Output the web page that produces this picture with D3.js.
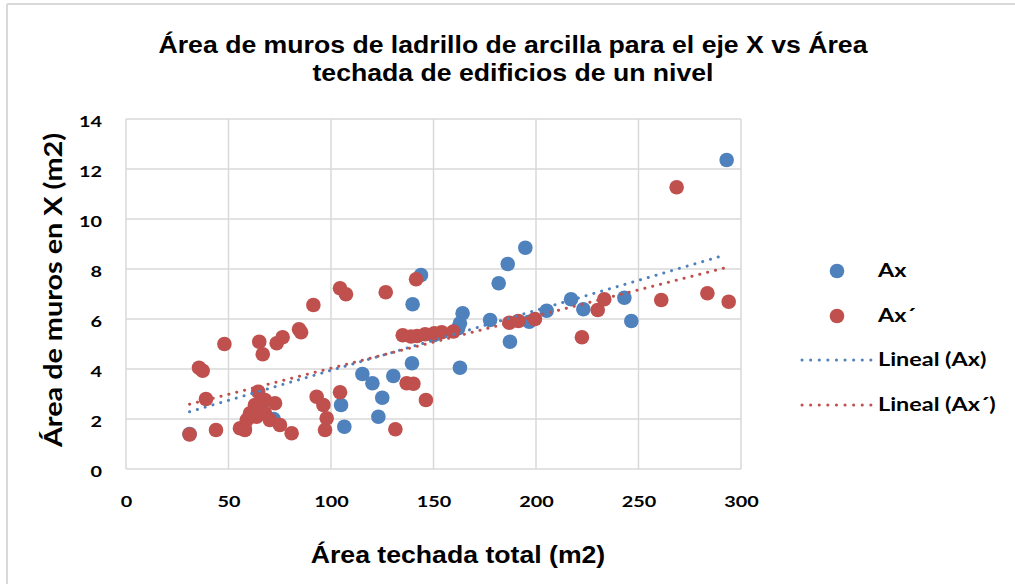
<!DOCTYPE html>
<html>
<head>
<meta charset="utf-8">
<script src="https://cdn.jsdelivr.net/npm/d3@7"></script>
<style>
  body { margin: 0; background: #fff; }
  .tick text { font-family: Lato, "Open Sans", sans-serif; font-weight: bold; font-size: 15.5px; fill: #000; }
</style>
</head>
<body>
<script>
// Ax (blue) points: [area techada, area de muros]
var axPoints = [[293,12.36],[194.8,8.85],[186.2,8.2],[181.8,7.43],[143.9,7.76],[139.8,6.59],[139.5,4.23],
  [164.2,6.23],[162.9,5.83],[162.9,4.05],[177.6,5.96],[187.3,5.09],[196.7,5.89],[205.2,6.33],[217.1,6.79],
  [223.1,6.39],[243.1,6.85],[246.5,5.92],[115.3,3.8],[120.2,3.43],[130.4,3.72],[125,2.85],[123.1,2.09],
  [104.9,2.56],[106.5,1.69],[162,5.63],[31,1.4],[58,1.6],[66,2.5],[72,2.0],[150,5.35]];

// Ax´ (red) points
var axPrimePoints = [[31,1.38],[43.9,1.56],[35.6,4.05],[37.4,3.93],[39,2.8],[48,5.0],[55.6,1.63],[58,1.56],
  [58.9,1.96],[65,5.09],[66.7,4.59],[64.5,3.09],[62.9,2.56],[67.8,2.76],[72.7,2.63],[67.8,2.23],[63.7,2.09],
  [70.2,1.96],[75.1,1.76],[80.8,1.43],[60.5,2.23],[65.4,2.49],[73.5,5.03],[76.4,5.27],[84.4,5.59],[85.4,5.47],
  [91.4,6.56],[93,2.89],[96.3,2.56],[97.9,2.03],[97.1,1.56],[104.4,3.07],[104.4,7.23],[107.3,6.99],[126.7,7.07],
  [131.4,1.59],[136.9,3.43],[140.2,3.41],[146.3,2.76],[141.5,7.59],[135,5.35],[139,5.3],[142,5.32],[145.9,5.39],
  [150.4,5.43],[154,5.47],[159.7,5.5],[187,5.85],[191.4,5.92],[199.5,6.0],[222.4,5.27],[230.1,6.36],[233.3,6.79],
  [261.1,6.76],[268.6,11.27],[283.6,7.03],[294,6.69]];

// linear trend endpoints
var trendAx = [[31,2.29],[290.6,8.52]];
var trendAxPrime = [[31,2.59],[293.3,8.07]];

var xTicks = [0,50,100,150,200,250,300];
var yTicks = [0,2,4,6,8,10,12,14];
var legendLabels = ["Ax", "Ax´", "Lineal (Ax)", "Lineal (Ax´)"];

var blue = "#4F81BD";
var red = "#C0504D";

var width = 1015, height = 584;
var margin = {top: 119, left: 126};
var plotW = 615, plotH = 350;

var svg = d3.select("body")
  .append("svg")
  .attr("width", width)
  .attr("height", height);

// chart border (only top and left visible)
svg.append("line").attr("x1", 7).attr("x2", width + 5).attr("y1", 4).attr("y2", 4)
  .attr("stroke", "#d9d9d9").attr("stroke-width", 2);
svg.append("line").attr("x1", 7).attr("x2", 7).attr("y1", 4).attr("y2", height + 5)
  .attr("stroke", "#d9d9d9").attr("stroke-width", 2);

// title (text in the picture is a bit wider than Arial, hence the x scale)
var title = svg.append("g")
  .attr("transform", "translate(513,0) scale(1.11,1)")
  .append("text")
  .attr("text-anchor", "middle")
  .style("font-family", "'Liberation Sans', Arial, sans-serif")
  .style("font-weight", "bold")
  .style("font-size", "24px");
title.append("tspan").attr("x", 0).attr("y", 53).text("Área de muros de ladrillo de arcilla para el eje X vs Área");
title.append("tspan").attr("x", 0).attr("y", 81).text("techada de edificios de un nivel");

var g = svg.append("g")
  .attr("transform", "translate(" + margin.left + "," + margin.top + ")");

var xScale = d3.scaleLinear().domain([0, 300]).range([0, plotW]);
var yScale = d3.scaleLinear().domain([0, 14]).range([plotH, 0]);

// gridlines
g.selectAll(".vgrid")
  .data(xTicks)
  .enter()
  .append("line")
  .attr("x1", function(d) { return xScale(d); })
  .attr("x2", function(d) { return xScale(d); })
  .attr("y1", 0)
  .attr("y2", plotH)
  .attr("stroke", "#d9d9d9")
  .attr("stroke-width", 1.5);

g.selectAll(".hgrid")
  .data(yTicks)
  .enter()
  .append("line")
  .attr("x1", 0)
  .attr("x2", plotW)
  .attr("y1", function(d) { return yScale(d); })
  .attr("y2", function(d) { return yScale(d); })
  .attr("stroke", "#d9d9d9")
  .attr("stroke-width", 1.5);

// axes (labels only)
var xAxis = g.append("g")
  .attr("transform", "translate(0," + plotH + ")")
  .call(d3.axisBottom(xScale).tickValues(xTicks).tickSize(0).tickPadding(27));
xAxis.select(".domain").remove();
xAxis.selectAll("text").attr("transform", "scale(1.28,1)");

var yAxis = g.append("g")
  .call(d3.axisLeft(yScale).tickValues(yTicks).tickSize(0).tickPadding(24));
yAxis.select(".domain").remove();
yAxis.selectAll("text")
  .attr("x", 0)
  .attr("dy", "0.5em")
  .attr("transform", "translate(-24,0) scale(1.28,1)");

// axis titles
svg.append("text")
  .attr("transform", "translate(458,563) scale(1.11,1)")
  .attr("text-anchor", "middle")
  .style("font-family", "'Liberation Sans', Arial, sans-serif")
  .style("font-weight", "bold")
  .style("font-size", "24px")
  .text("Área techada total (m2)");

svg.append("text")
  .attr("transform", "translate(62,290) rotate(-90) scale(1.2,1)")
  .attr("text-anchor", "middle")
  .style("font-family", "Lato, 'Open Sans', sans-serif")
  .style("font-weight", "bold")
  .style("font-size", "24px")
  .text("Área de muros en X (m2)");

// points
g.selectAll(".ax")
  .data(axPoints)
  .enter()
  .append("circle")
  .attr("cx", function(d) { return xScale(d[0]); })
  .attr("cy", function(d) { return yScale(d[1]); })
  .attr("r", 7.3)
  .attr("fill", blue);

g.selectAll(".axp")
  .data(axPrimePoints)
  .enter()
  .append("circle")
  .attr("cx", function(d) { return xScale(d[0]); })
  .attr("cy", function(d) { return yScale(d[1]); })
  .attr("r", 7.3)
  .attr("fill", red);

// trend lines
var line = d3.line()
  .x(function(d) { return xScale(d[0]); })
  .y(function(d) { return yScale(d[1]); });

g.append("path")
  .datum(trendAx)
  .attr("d", line)
  .attr("fill", "none")
  .attr("stroke", blue)
  .attr("stroke-width", 3)
  .attr("stroke-linecap", "round")
  .attr("stroke-dasharray", "0.1 8");

g.append("path")
  .datum(trendAxPrime)
  .attr("d", line)
  .attr("fill", "none")
  .attr("stroke", red)
  .attr("stroke-width", 3)
  .attr("stroke-linecap", "round")
  .attr("stroke-dasharray", "0.1 8");

// legend
var legendY = [271, 316, 360, 405];
var legendColors = [blue, red, blue, red];

var legend = svg.selectAll(".legend")
  .data(legendLabels)
  .enter()
  .append("g")
  .attr("transform", function(d, i) { return "translate(0," + legendY[i] + ")"; });

legend.each(function(d, i) {
  var item = d3.select(this);
  if (i < 2) {
    item.append("circle").attr("cx", 837).attr("cy", 0).attr("r", 7.3).attr("fill", legendColors[i]);
  } else {
    item.append("line")
      .attr("x1", 802).attr("x2", 871).attr("y1", 0).attr("y2", 0)
      .attr("stroke", legendColors[i])
      .attr("stroke-width", 3)
      .attr("stroke-linecap", "round")
      .attr("stroke-dasharray", "0.1 8.5");
  }
  item.append("text")
    .attr("transform", "translate(878,0) scale(1.3,1)")
    .attr("dy", "0.35em")
    .style("font-family", "Lato, 'Open Sans', sans-serif")
    .style("font-weight", "bold")
    .style("font-size", "18px")
    .text(d);
});
</script>
</body>
</html>
